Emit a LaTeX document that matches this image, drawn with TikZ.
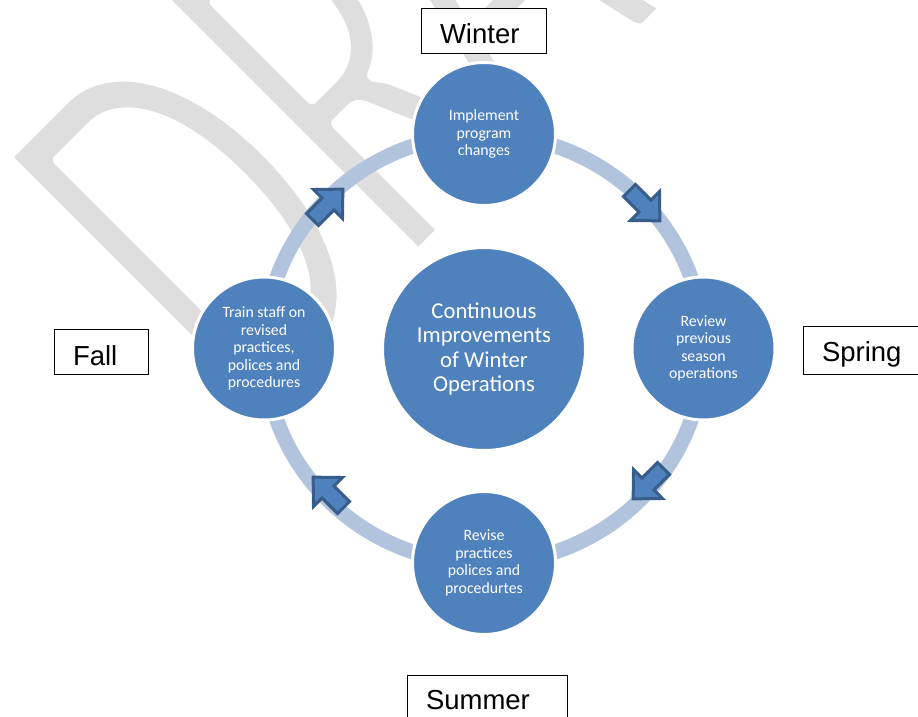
\documentclass[tikz,border=0pt]{standalone}
\usepackage{fontspec}
\newfontfamily\carlito{Carlito}
\newfontfamily\arialf{Liberation Sans}
\definecolor{cfill}{RGB}{79,129,189}
\definecolor{ringcol}{RGB}{178,195,222}
\definecolor{arrowedge}{RGB}{56,93,138}
\definecolor{wmcol}{RGB}{222,222,222}
\tikzset{
  stage/.style={circle, fill=cfill, draw=white, line width=3pt, minimum size=143pt, inner sep=0pt,
    text=white, align=center, font=\carlito\fontsize{15.8}{17.5}\selectfont},
  hub/.style={stage, minimum size=203pt, font=\carlito\fontsize{22.7}{24.5}\selectfont},
  season/.style={draw=black, line width=1pt, fill=white, inner ysep=0pt, inner xsep=18.5pt,
    align=left, anchor=north west, font=\arialf\fontsize{27.5}{30}\selectfont},
  arrowstyle/.style={fill=cfill, draw=arrowedge, line width=3pt, line join=miter},
  cyclearrow/.pic={\draw[arrowstyle] (-22,-8.5) -- (0,-8.5) -- (0,-20.5) -- (21,0) -- (0,20.5) -- (0,8.5) -- (-22,8.5) -- cycle;},
  wmtext/.style={text=wmcol, inner sep=0pt, anchor=base west, rotate=45, yscale=1.567,
    font=\carlito\fontsize{360}{360}\selectfont}
}
\begin{document}
\begin{tikzpicture}[x=1pt,y=-1pt]
\useasboundingbox (0,0) rectangle (918,717);
\clip (0,0) rectangle (918,717);
\fill[white] (0,0) rectangle (918,717);
% watermark (thinned by a white stroke round the glyphs)
\node[wmtext] (wm) at (245,429) {\special{pdf:literal direct 1 1 1 RG 8 w 1 j 2 Tr}DR\kern-30pt AFT\special{pdf:literal direct 0 Tr}};
% ring
\draw[ringcol, line width=15pt] (484,349) ellipse [x radius=219.5, y radius=214.5];
% arrows
\pic[rotate=45] at (328,204) {cyclearrow};
\pic[rotate=-45] at (645,206) {cyclearrow};
\pic[rotate=-135] at (648,484) {cyclearrow};
\pic[rotate=135] at (328,492) {cyclearrow};
% circles
\node[hub] (hub) at (484,349) {Continuous\\Improvements\\of Winter\\Operations};
\node[stage] (winterc) at (484,134) {Implement\\program\\changes};
\node[stage] (springc) at (703.5,348.5) {Review\\previous\\season\\operations};
\node[stage] (summerc) at (484,563) {Revise\\practices\\polices and\\procedurtes};
\node[stage] (fallc) at (264,348.5) {Train staff on\\revised\\practices,\\polices and\\procedures};
% season labels
\node[season, text width=88pt, text height=35pt, text depth=10pt] (winter) at (421,8) {Winter};
\node[season, text width=57pt, text height=36pt, text depth=9pt] (fall) at (54,329) {Fall};
\node[season, text width=103pt, text height=35pt, text depth=13pt] (spring) at (803,326) {Spring};
\node[season, text width=123pt, text height=34pt, text depth=20pt] (summer) at (407,675) {Summer};
\end{tikzpicture}
\end{document}
